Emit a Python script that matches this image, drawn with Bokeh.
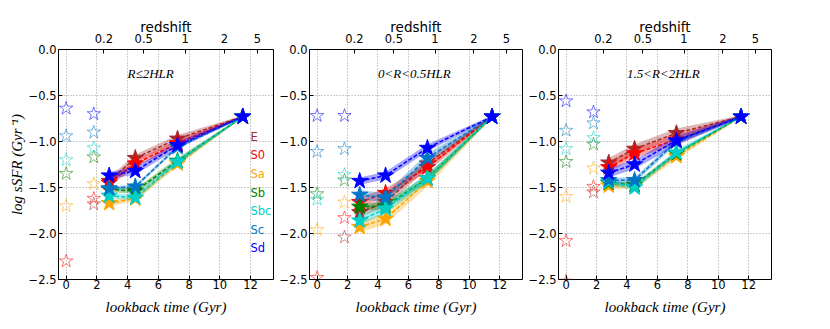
import math
from bokeh.plotting import figure
from bokeh.layouts import row
from bokeh.models import LinearAxis, FixedTicker, Range1d, Label
from bokeh.core.properties import value
from bokeh.embed import file_html
from bokeh.resources import INLINE

nan = float("nan")

# ---------------- data ----------------
types = ["E", "S0", "Sa", "Sb", "Sbc", "Sc", "Sd"]
colors = ["#a52a2a", "#ff0000", "#ffa500", "#008000", "#00d0c9", "#0076c9", "#0000ff"]

lbt_fit = [2.8, 4.5, 7.25, 11.5]      # lookback time (Gyr) of filled stars
lbt_obs = [0.0, 1.8]                  # lookback time (Gyr) of open stars

x_ticks = [0, 2, 4, 6, 8, 10, 12]
y_ticks = [0.0, -0.5, -1.0, -1.5, -2.0, -2.5]
y_tick_labels = ["0.0", "\u22120.5", "\u22121.0", "\u22121.5", "\u22122.0", "\u22122.5"]
redshift_lbt = [2.45, 5.05, 7.75, 10.3, 12.45]
redshift_labels = ["0.2", "0.5", "1", "2", "5"]

# Panel 1: R <= 2 HLR  (rows: E, S0, Sa, Sb, Sbc, Sc, Sd)
p1_ssfr = [
    [-1.43, -1.18, -0.97, -0.73],
    [-1.45, -1.24, -1.02, -0.73],
    [-1.67, -1.62, -1.24, -0.73],
    [-1.52, -1.54, -1.21, -0.73],
    [-1.59, -1.61, -1.22, -0.73],
    [-1.51, -1.49, -1.06, -0.73],
    [-1.37, -1.32, -1.04, -0.73],
]
p1_err = [0.04, 0.04, 0.03, 0.03, 0.03, 0.02, 0.04]
p1_obs_0 = [nan, -2.30, -1.70, -1.35, -1.20, -0.94, -0.64]
p1_obs_18 = [-1.68, -1.62, -1.46, -1.17, -1.07, -0.90, -0.70]

# Panel 2: 0 < R < 0.5 HLR
p2_ssfr = [
    [-1.77, -1.66, -1.24, -0.73],
    [-1.66, -1.56, -1.28, -0.73],
    [-1.93, -1.84, -1.43, -0.73],
    [-1.71, -1.70, -1.40, -0.73],
    [-1.86, -1.73, -1.40, -0.73],
    [-1.58, -1.61, -1.18, -0.73],
    [-1.43, -1.37, -1.07, -0.73],
]
p2_err = [0.05, 0.05, 0.06, 0.04, 0.05, 0.05, 0.04]
p2_obs_0 = [nan, -2.48, -1.96, -1.57, -1.63, -1.11, -0.72]
p2_obs_18 = [-2.04, -1.83, -1.66, -1.42, -1.36, -1.08, -0.72]

# Panel 3: 1.5 < R < 2 HLR
p3_ssfr = [
    [-1.23, -1.08, -0.91, -0.73],
    [-1.28, -1.13, -0.98, -0.73],
    [-1.48, -1.49, -1.16, -0.73],
    [-1.45, -1.47, -1.13, -0.73],
    [-1.44, -1.50, -1.12, -0.73],
    [-1.42, -1.42, -1.00, -0.73],
    [-1.34, -1.25, -0.99, -0.73],
]
p3_err = [0.05, 0.05, 0.03, 0.02, 0.03, 0.03, 0.05]
p3_obs_0 = [-2.52, -2.08, -1.60, -1.22, -1.08, -0.88, -0.56]
p3_obs_18 = [-1.55, -1.49, -1.29, -1.03, -0.96, -0.80, -0.68]

region_labels = ["R\u22642HLR", "0<R<0.5HLR", "1.5<R<2HLR"]

# ---------------- styling ----------------
SANS = "DejaVu Sans"
SERIF = "Liberation Serif"
TICK_FS = "11.5px"
band_scale = [1.0, 1.0, 1.0, 0.3]


def style_axis(ax, standoff=2):
    ax.axis_line_color = None
    ax.major_tick_in = 4
    ax.major_tick_out = 0
    ax.major_tick_line_color = "black"
    ax.minor_tick_line_color = None
    ax.major_label_text_font = SANS
    ax.major_label_text_color = "black"
    ax.major_label_text_font_size = TICK_FS
    ax.major_label_standoff = standoff
    ax.axis_label_text_color = "black"


def make_panel(ssfr, err, obs0, obs18, region, width, bl, br, ylabel=False, legend=False):
    p = figure(width=width, height=325,
               x_range=Range1d(-0.5, 13.5), y_range=Range1d(-2.5, 0.0),
               output_backend="svg", toolbar_location=None,
               min_border_left=bl, min_border_right=br,
               min_border_top=49, min_border_bottom=46,
               background_fill_color="white", border_fill_color="white")
    p.outline_line_color = "black"
    p.outline_line_width = 1
    p.outline_line_alpha = 1.0

    xa = p.xaxis[0]
    xa.ticker = FixedTicker(ticks=x_ticks)
    style_axis(xa, standoff=0)
    xa.axis_label = "lookback time (Gyr)"
    xa.axis_label_text_font = SERIF
    xa.axis_label_text_font_style = "italic"
    xa.axis_label_text_font_size = "15px"
    xa.axis_label_standoff = 7

    ya = p.yaxis[0]
    ya.ticker = FixedTicker(ticks=y_ticks)
    ya.major_label_overrides = dict(zip(y_ticks, y_tick_labels))
    style_axis(ya, standoff=2)
    if ylabel:
        ya.axis_label = "log sSFR (Gyr\u207b\u00b9)"
        ya.axis_label_text_font = SERIF
        ya.axis_label_text_font_style = "italic"
        ya.axis_label_text_font_size = "15px"
        ya.axis_label_standoff = 1

    top = LinearAxis(ticker=FixedTicker(ticks=redshift_lbt),
                     major_label_overrides=dict(zip(redshift_lbt, redshift_labels)),
                     axis_label="redshift")
    style_axis(top, standoff=7)
    top.axis_label_text_font = SANS
    top.axis_label_text_font_style = "normal"
    top.axis_label_text_font_size = "13.5px"
    top.axis_label_standoff = -4
    p.add_layout(top, "above")

    for g in p.grid:
        g.grid_line_color = "#9a9a9a"
        g.grid_line_dash = "1 2"
        g.grid_line_width = 1

    for i, c in enumerate(colors):
        vals = ssfr[i]
        lo = [v - err[i] * s for v, s in zip(vals, band_scale)]
        hi = [v + err[i] * s for v, s in zip(vals, band_scale)]
        p.varea(x=lbt_fit, y1=lo, y2=hi, fill_color=c, fill_alpha=0.35)
        p.line(lbt_fit, vals, line_color=c, line_width=1.5, line_dash="4 2")
        p.scatter(lbt_fit, vals, marker="star", size=17, fill_color=c, line_color=c, line_width=1)
        p.scatter(lbt_obs, [obs0[i], obs18[i]], marker="star", size=14,
                  fill_color=None, line_color=c, line_alpha=0.6, line_width=0.9)

    p.add_layout(Label(x=4.0, y=-0.26, text=region, text_font=SERIF,
                       text_font_style="italic", text_font_size="13px",
                       text_baseline="middle", text_align="left", text_color="black"))

    if legend:
        ly = [-0.95 - 0.202 * k for k in range(len(types))]
        p.text(x=[12.0] * len(types), y=ly, text=types, text_color=colors,
               text_font=value(SANS), text_font_size="11.5px",
               text_baseline="middle", text_align="left")
    return p


p1 = make_panel(p1_ssfr, p1_err, p1_obs_0, p1_obs_18, region_labels[0],
                width=276, bl=58, br=3, ylabel=True, legend=True)
p2 = make_panel(p2_ssfr, p2_err, p2_obs_0, p2_obs_18, region_labels[1],
                width=249, bl=31, br=3)
p3 = make_panel(p3_ssfr, p3_err, p3_obs_0, p3_obs_18, region_labels[2],
                width=258, bl=31, br=12)

layout = row(p1, p2, p3)
open("out.html", "w").write(file_html(layout, INLINE))
